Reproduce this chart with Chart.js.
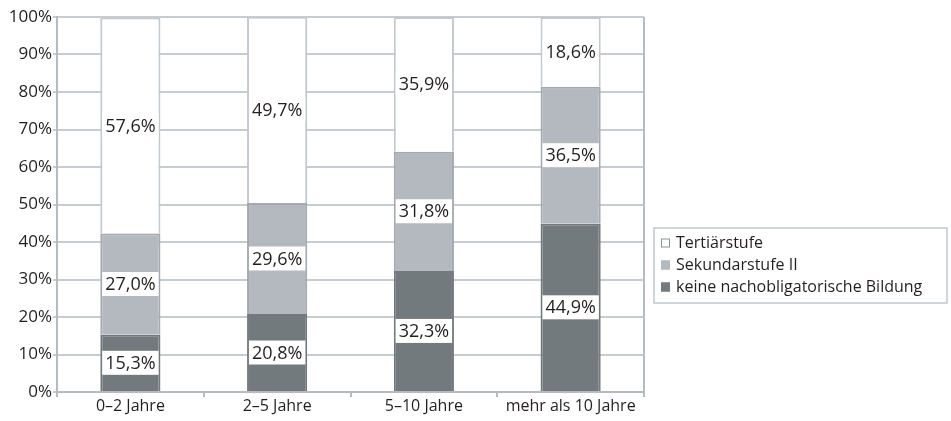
<!DOCTYPE html>
<html>
<head>
<meta charset="utf-8">
<script src="https://cdn.jsdelivr.net/npm/chart.js@4"></script>
<style>
  html, body { margin: 0; padding: 0; background: #fff; }
  #wrap { width: 951px; height: 421px; }
</style>
</head>
<body>
<div id="wrap"><canvas id="c" width="951" height="421"></canvas></div>
<script>
// Aufenthaltsdauer (categories)
const categories = ['0\u20132 Jahre', '2\u20135 Jahre', '5\u201310 Jahre', 'mehr als 10 Jahre'];
// Anteile in Prozent je Bildungsstufe
const keineNachobligatorische = [15.3, 20.8, 32.3, 44.9];
const sekundarstufeII = [27.0, 29.6, 31.8, 36.5];
const tertiaerstufe = [57.6, 49.7, 35.9, 18.6];
const seriesLabels = ['keine nachobligatorische Bildung', 'Sekundarstufe II', 'Tertiärstufe'];
const yTicks = [0, 10, 20, 30, 40, 50, 60, 70, 80, 90, 100];

const FONT = '"Open Sans", "DejaVu Sans", sans-serif';
const TEXT = '#231f20';
const GRID = '#c7ccd1';
const AXIS = '#b5bbc0';

const fmt = v => v.toFixed(1).replace('.', ',') + '%';

// Value labels centred in each segment, on a white box
const segmentLabels = {
  id: 'segmentLabels',
  afterDatasetsDraw(chart) {
    const ctx = chart.ctx;
    ctx.save();
    ctx.font = '18px ' + FONT;
    ctx.textAlign = 'center';
    ctx.textBaseline = 'middle';
    chart.data.datasets.forEach((ds, di) => {
      const meta = chart.getDatasetMeta(di);
      meta.data.forEach((el, i) => {
        const txt = fmt(ds.data[i]);
        const cy = (el.y + el.base) / 2;
        const w = ctx.measureText(txt).width + 6;
        const h = 24;
        ctx.fillStyle = '#ffffff';
        ctx.fillRect(el.x - w / 2, cy - h / 2, w, h);
        ctx.fillStyle = TEXT;
        ctx.fillText(txt, el.x, cy + 1);
      });
    });
    ctx.restore();
  }
};

// Right-hand frame line of the plot area
const frameRight = {
  id: 'frameRight',
  afterDraw(chart) {
    const { ctx, chartArea: a } = chart;
    ctx.save();
    ctx.strokeStyle = AXIS;
    ctx.lineWidth = 2;
    ctx.beginPath();
    ctx.moveTo(a.right, a.top);
    ctx.lineTo(a.right, a.bottom + 5);
    ctx.stroke();
    ctx.restore();
  }
};

// Boxed legend to the right of the plot
const boxLegend = {
  id: 'boxLegend',
  afterDraw(chart) {
    const ctx = chart.ctx;
    const left = 654, top = 228, width = 293, height = 75;
    ctx.save();
    ctx.strokeStyle = '#c3c8cc';
    ctx.lineWidth = 1.5;
    ctx.strokeRect(left, top, width, height);
    ctx.font = '16px ' + FONT;
    ctx.textBaseline = 'middle';
    const items = chart.data.datasets.slice().reverse();
    items.forEach((ds, k) => {
      const cy = top + 15 + k * 22;
      ctx.fillStyle = ds.backgroundColor;
      ctx.fillRect(661, cy - 4.5, 9, 9);
      ctx.strokeStyle = ds.legendEdge;
      ctx.lineWidth = 1;
      ctx.strokeRect(661.5, cy - 4, 8, 8);
      ctx.fillStyle = TEXT;
      ctx.fillText(ds.label, 676, cy);
    });
    ctx.restore();
  }
};

new Chart(document.getElementById('c'), {
  type: 'bar',
  data: {
    labels: categories,
    datasets: [
      { label: seriesLabels[0], data: keineNachobligatorische, backgroundColor: '#737a7e', borderColor: '#737a7e', legendEdge: '#737a7e', borderWidth: 2 },
      { label: seriesLabels[1], data: sekundarstufeII, backgroundColor: '#b4b9bf', borderColor: '#a3a9ae', legendEdge: '#b4b9bf', borderWidth: 2 },
      { label: seriesLabels[2], data: tertiaerstufe, backgroundColor: '#ffffff', borderColor: '#c3c8cc', legendEdge: '#8d9397', borderWidth: 2 }
    ]
  },
  options: {
    responsive: false,
    animation: false,
    layout: { padding: { left: 0, top: 17, right: 307, bottom: 0 } },
    datasets: { bar: { barPercentage: 0.41, categoryPercentage: 1.0 } },
    plugins: { legend: { display: false }, tooltip: { enabled: false } },
    scales: {
      x: {
        stacked: true,
        afterFit(s) { s.height = 29; },
        grid: { offset: true, drawOnChartArea: false, drawTicks: true, tickLength: 5, color: AXIS, lineWidth: 2 },
        border: { display: true, color: AXIS, width: 2 },
        ticks: { color: TEXT, font: { family: FONT, size: 16 }, padding: 0, maxRotation: 0 }
      },
      y: {
        stacked: true,
        min: 0,
        max: 100,
        afterFit(s) { s.width = 57; },
        afterBuildTicks(s) { s.ticks = yTicks.map(v => ({ value: v })); },
        grid: { color: GRID, lineWidth: 2, tickLength: 4 },
        border: { display: true, color: AXIS, width: 2 },
        ticks: { color: TEXT, font: { family: FONT, size: 17 }, padding: 1, callback: v => v + '%' }
      }
    }
  },
  plugins: [segmentLabels, frameRight, boxLegend]
});
</script>
</body>
</html>
